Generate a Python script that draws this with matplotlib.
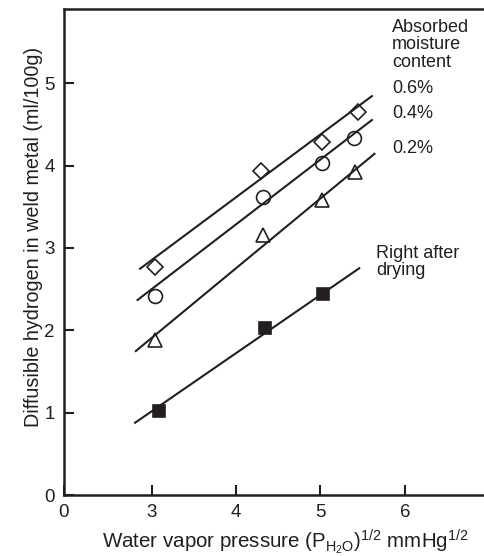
import matplotlib
matplotlib.use("Agg")
import matplotlib.pyplot as plt

plt.rcParams['font.family'] = ['Liberation Sans', 'DejaVu Sans']
plt.rcParams['mathtext.default'] = 'regular'

# --- data ---
# measured points (x = sqrt of water vapour pressure, y = diffusible H)
x_06 = [3.04, 4.30, 5.02, 5.44]
y_06 = [2.77, 3.93, 4.28, 4.65]
x_04 = [3.04, 4.32, 5.02, 5.40]
y_04 = [2.42, 3.62, 4.03, 4.34]
x_02 = [3.04, 4.32, 5.02, 5.41]
y_02 = [1.88, 3.16, 3.58, 3.92]
x_dry = [3.09, 4.34, 5.03]
y_dry = [1.02, 2.03, 2.44]

# fitted lines (end points)
fit_x_06 = [2.85, 5.62]
fit_y_06 = [2.74, 4.85]
fit_x_04 = [2.82, 5.62]
fit_y_04 = [2.36, 4.56]
fit_x_02 = [2.80, 5.65]
fit_y_02 = [1.74, 4.15]
fit_x_dry = [2.79, 5.47]
fit_y_dry = [0.87, 2.76]

x_ticks = [1.957, 3, 4, 5, 6]
x_tick_labels = ["0", "3", "4", "5", "6"]
y_ticks = [0, 1, 2, 3, 4, 5]

fig = plt.figure(figsize=(4.84, 5.56), dpi=100)
ax = fig.add_axes([0.1322, 0.1097, 0.8678, 0.8741])

lw = 1.5
for fx, fy in [(fit_x_06, fit_y_06), (fit_x_04, fit_y_04),
               (fit_x_02, fit_y_02), (fit_x_dry, fit_y_dry)]:
    ax.plot(fx, fy, color='#231f20', lw=lw, zorder=3, solid_capstyle='butt')

mk = dict(ls='none', markeredgecolor='#231f20', markeredgewidth=1.2, zorder=2)
ax.plot(x_06, y_06, marker='D', ms=8, markerfacecolor='white', **mk)
ax.plot(x_04, y_04, marker='o', ms=10, markerfacecolor='white', **mk)
ax.plot(x_02, y_02, marker='^', ms=10, markerfacecolor='white', **mk)
ax.plot(x_dry, y_dry, marker='s', ms=9, markerfacecolor='#231f20', **mk)

ax.set_xlim(1.957, 6.94)
ax.set_ylim(0, 5.9)
ax.set_xticks(x_ticks)
ax.set_xticklabels(x_tick_labels)
ax.set_yticks(y_ticks)
ax.tick_params(direction='in', length=7, width=1.5, labelsize=13.5,
               pad=6.5, colors='#231f20')
ax.spines['right'].set_visible(False)
for s in ['left', 'bottom', 'top']:
    ax.spines[s].set_linewidth(1.8)
    ax.spines[s].set_color('#231f20')

ax.set_xlabel(r"Water vapor pressure (P$_{H_2O}$)$^{1/2}$ mmHg$^{1/2}$",
              fontsize=14.8, color='#231f20')
ax.xaxis.set_label_coords(0.526, -0.066)
ax.set_ylabel("Diffusible hydrogen in weld metal (ml/100g)",
              fontsize=14.2, color='#231f20')
ax.yaxis.set_label_coords(-0.05, 0.531)

txt = dict(fontsize=13, color='#231f20', va='baseline', ha='left')
ax.text(5.846, 5.62, "Absorbed", **txt)
ax.text(5.846, 5.413, "moisture", **txt)
ax.text(5.846, 5.194, "content", **txt)
ax.text(5.846, 4.88, "0.6%", **txt)
ax.text(5.846, 4.575, "0.4%", **txt)
ax.text(5.846, 4.15, "0.2%", **txt)
ax.text(5.656, 2.876, "Right after", **txt)
ax.text(5.656, 2.67, "drying", **txt)

fig.savefig("out.png", dpi=100)
